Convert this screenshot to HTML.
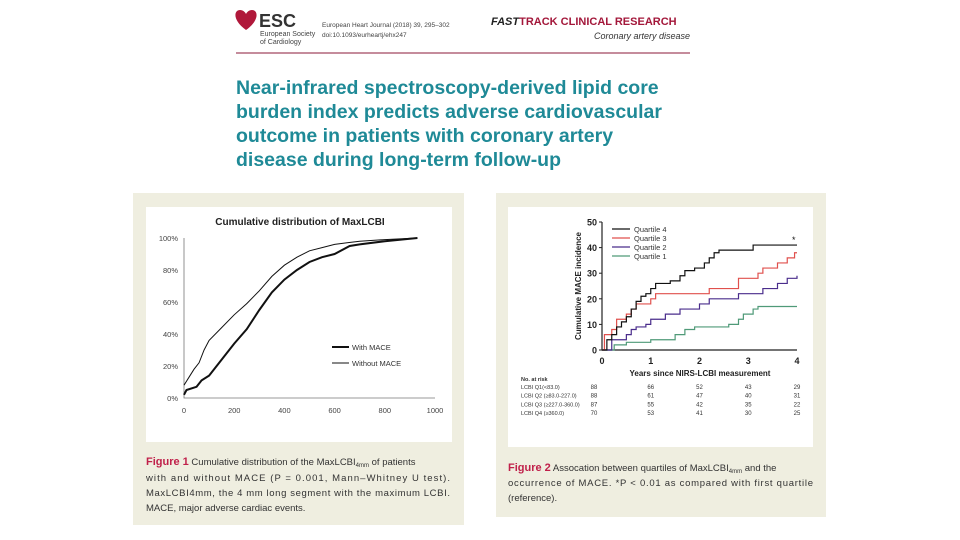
<!DOCTYPE html>
<html><head><meta charset="utf-8"><style>
html,body{margin:0;padding:0;background:#fff;}
svg{display:block;font-family:"Liberation Sans",sans-serif;}
</style></head><body>
<svg id="s" width="960" height="540" viewBox="0 0 960 540">
<g>
  <path d="M246 30 C232 20 234 10 240 10 C243 10 245 12 246 14 C247 12 249 10 252 10 C258 10 260 20 246 30Z" fill="#b0183a"/>
  <text x="259" y="27" font-size="18" font-weight="bold" fill="#333">ESC</text>
  <text x="260" y="36" font-size="7" fill="#444">European Society</text>
  <text x="260" y="44" font-size="7" fill="#444">of Cardiology</text>
  <text x="322" y="27" font-size="6.5" fill="#444">European Heart Journal (2018) 39, 295–302</text>
  <text x="322" y="37" font-size="6.5" fill="#444">doi:10.1093/eurheartj/ehx247</text>
  <text x="491" y="25" font-size="11" font-weight="bold" fill="#222"><tspan font-style="italic">FAST</tspan><tspan fill="#a3173a">TRACK CLINICAL RESEARCH</tspan></text>
  <text x="690" y="39" font-size="9" font-style="italic" fill="#333" text-anchor="end">Coronary artery disease</text>
  <line x1="236" y1="53" x2="690" y2="53" stroke="#8b1a3a" stroke-width="1"/>
</g>
<g font-size="19.5" font-weight="bold" fill="#1f8a97">
  <text x="236" y="94">Near-infrared spectroscopy-derived lipid core</text>
  <text x="236" y="118">burden index predicts adverse cardiovascular</text>
  <text x="236" y="142">outcome in patients with coronary artery</text>
  <text x="236" y="166">disease during long-term follow-up</text>
</g>

<!-- Figure 1 -->
<rect x="133" y="193" width="331" height="332" fill="#efeee0"/>
<rect x="146" y="207" width="306" height="235" fill="#fff"/>
<g id="f1"></g>
<g font-size="9.5" fill="#333">
  <text x="146" y="465"><tspan fill="#c0204a" font-weight="bold" font-size="11">Figure 1</tspan> Cumulative distribution of the MaxLCBI<tspan font-size="6" dy="2">4mm</tspan><tspan dy="-2"> of patients</tspan></text>
  <text x="146" y="481" textLength="304">with and without MACE (P = 0.001, Mann–Whitney U test).</text>
  <text x="146" y="496" textLength="304">MaxLCBI4mm, the 4 mm long segment with the maximum LCBI.</text>
  <text x="146" y="511">MACE, major adverse cardiac events.</text>
</g>

<!-- Figure 2 -->
<rect x="496" y="193" width="330" height="324" fill="#efeee0"/>
<rect x="508" y="207" width="305" height="240" fill="#fff"/>
<g id="f2"></g>
<g font-size="9.5" fill="#333">
  <text x="508" y="471"><tspan fill="#c0204a" font-weight="bold" font-size="11">Figure 2</tspan> Assocation between quartiles of MaxLCBI<tspan font-size="6" dy="2">4mm</tspan><tspan dy="-2"> and the</tspan></text>
  <text x="508" y="486" textLength="305">occurrence of MACE. *P &lt; 0.01 as compared with first quartile</text>
  <text x="508" y="501">(reference).</text>
</g>
</svg>
<script>
// Figure 1 data
const f1XTicks=[0,200,400,600,800,1000];
const f1YTicks=[0,20,40,60,80,100];
const withMaceX=[0,10,50,70,100,150,200,250,300,350,400,450,500,550,600,660,700,800,930];
const withMaceY=[2,5,7,11,14,24,34,43,55,66,74,80,85,88,90,95,96,98,100];
const withoutMaceX=[0,20,40,60,80,100,150,200,250,300,350,400,450,500,550,600,650,700,800,930];
const withoutMaceY=[8,13,18,22,30,36,44,52,59,67,76,83,88,92,94,96,97,98,99,100];
// Figure 2 data
const f2XTicks=[0,1,2,3,4];
const f2YTicks=[0,10,20,30,40,50];
const q4T=[0,0.1,0.2,0.3,0.4,0.5,0.6,0.7,0.8,0.9,1,1.1,1.4,1.6,1.7,1.9,2.1,2.2,2.3,2.4,3.1,4];
const q4V=[0,4,6,9,11,13,16,19,21,22,24,26,27,29,31,32,34,36,38,39,41,41];
const q3T=[0,0.05,0.2,0.3,0.5,0.6,0.7,1,1.1,1.8,2.2,2.8,3.2,3.3,3.6,3.8,3.95,4];
const q3V=[0,6,8,12,14,16,18,20,22,22,24,28,30,32,34,36,38,38];
const q2T=[0,0.2,0.5,0.6,0.7,0.9,1,1.3,1.6,2,2.2,2.8,3.3,3.6,3.8,4];
const q2V=[0,4,6,8,9,10,12,14,16,18,20,22,24,26,28,29];
const q1T=[0,0.25,0.5,1,1.5,1.7,1.9,2.6,2.8,2.9,3.1,3.2,4];
const q1V=[0,2,3,4,6,8,9,10,12,14,16,17,17];
const riskLabels=["LCBI Q1(<83.0)","LCBI Q2 (≥83.0-227.0)","LCBI Q3 (≥227.0-360.0)","LCBI Q4 (≥360.0)"];
const riskQ1=[88,66,52,43,29];
const riskQ2=[88,61,47,40,31];
const riskQ3=[87,55,42,35,22];
const riskQ4=[70,53,41,30,25];

const NS="http://www.w3.org/2000/svg";
function mk(parent,tag,attrs,txt){const e=document.createElementNS(NS,tag);for(const k in attrs)e.setAttribute(k,attrs[k]);if(txt!==undefined)e.textContent=txt;parent.appendChild(e);return e;}

// Figure 1
const g1=document.getElementById('f1');
const x1=v=>184+v*(435-184)/1000;
const y1=v=>398-v*(398-238)/100;
let t=mk(g1,'text',{x:300,y:225,'font-size':10,'font-weight':'bold',fill:'#222','text-anchor':'middle'},'Cumulative distribution of MaxLCBI');


let ax=mk(g1,'path',{d:`M${x1(0)} ${y1(100)}V${y1(0)}H${x1(1000)}`,stroke:'#777',fill:'none','stroke-width':0.8});


f1YTicks.forEach(v=>{const e=mk(g1,'text',{x:178,y:y1(v)+3,'font-size':7.5,fill:'#444','text-anchor':'end'},v+'%');

});
f1XTicks.forEach(v=>{const e=mk(g1,'text',{x:x1(v),y:413,'font-size':7.5,fill:'#444','text-anchor':'middle'},v);

});
function line1(xs,ys,w,name){const d=xs.map((x,i)=>(i?'L':'M')+x1(x)+' '+y1(ys[i])).join('');const p=mk(g1,'path',{d,stroke:'#111',fill:'none','stroke-width':w});

}
line1(withoutMaceX,withoutMaceY,1,'without-mace-line');
line1(withMaceX,withMaceY,2,'with-mace-line');
[[347,2,'With MACE','legend-with-mace'],[363,1,'Without MACE','legend-without-mace']].forEach(([y,w,l,n])=>{
const g=mk(g1,'g',{});


mk(g,'line',{x1:332,x2:349,y1:y,y2:y,stroke:'#111','stroke-width':w});
mk(g,'text',{x:352,y:y+3,'font-size':7.5,fill:'#333'},l);});

// Figure 2
const g2=document.getElementById('f2');
const x2=v=>602+v*(797-602)/4;
const y2=v=>350-v*(350-222)/50;
let a2=mk(g2,'path',{d:`M${x2(0)} ${y2(50)}V${y2(0)}H${x2(4)}`,stroke:'#222',fill:'none','stroke-width':1.2});


f2YTicks.forEach(v=>{const e=mk(g2,'text',{x:597,y:y2(v)+3.5,'font-size':9,'font-weight':'bold',fill:'#222','text-anchor':'end'},v);


mk(g2,'line',{x1:599,x2:602,y1:y2(v),y2:y2(v),stroke:'#222'});});
f2XTicks.forEach(v=>{const e=mk(g2,'text',{x:x2(v),y:364,'font-size':9,'font-weight':'bold',fill:'#222','text-anchor':'middle'},v);

});
let yt=mk(g2,'text',{x:0,y:0,'font-size':8,'font-weight':'bold',fill:'#222','text-anchor':'middle',transform:'translate(581,286) rotate(-90)'},'Cumulative MACE incidence');


let xt=mk(g2,'text',{x:700,y:376,'font-size':8,'font-weight':'bold',fill:'#222','text-anchor':'middle'},'Years since NIRS-LCBI measurement');


function step(ts,vs,c,name){let d='M'+x2(ts[0])+' '+y2(vs[0]);for(let i=1;i<ts.length;i++){d+='H'+x2(ts[i])+'V'+y2(vs[i]);}
const p=mk(g2,'path',{d,stroke:c,fill:'none','stroke-width':1.2});

}
step(q1T,q1V,'#4f9a78','quartile-1-line');
step(q2T,q2V,'#4a2d8c','quartile-2-line');
step(q3T,q3V,'#e0504d','quartile-3-line');
step(q4T,q4V,'#111','quartile-4-line');
let st=mk(g2,'text',{x:792,y:243,'font-size':9,fill:'#111'},'*');


[['Quartile 4','#111'],['Quartile 3','#e0504d'],['Quartile 2','#4a2d8c'],['Quartile 1','#4f9a78']].forEach(([l,c],i)=>{
const y=229+i*9;const g=mk(g2,'g',{});


mk(g,'line',{x1:612,x2:630,y1:y,y2:y,stroke:c,'stroke-width':1.3});
mk(g,'text',{x:634,y:y+3,'font-size':7.5,fill:'#333'},l);});
let nr=mk(g2,'text',{x:521,y:381,'font-size':5.5,'font-weight':'bold',fill:'#333'},'No. at risk');


[riskQ1,riskQ2,riskQ3,riskQ4].forEach((row,r)=>{const y=389+r*8.7;
const lab=mk(g2,'text',{x:521,y:y,'font-size':5.5,fill:'#333'},riskLabels[r]);


row.forEach((v,i)=>{const e=mk(g2,'text',{x:x2(i)+(i==0?-8:0),y:y,'font-size':6,fill:'#333','text-anchor':'middle'},v);

});});
</script>
</body></html>
